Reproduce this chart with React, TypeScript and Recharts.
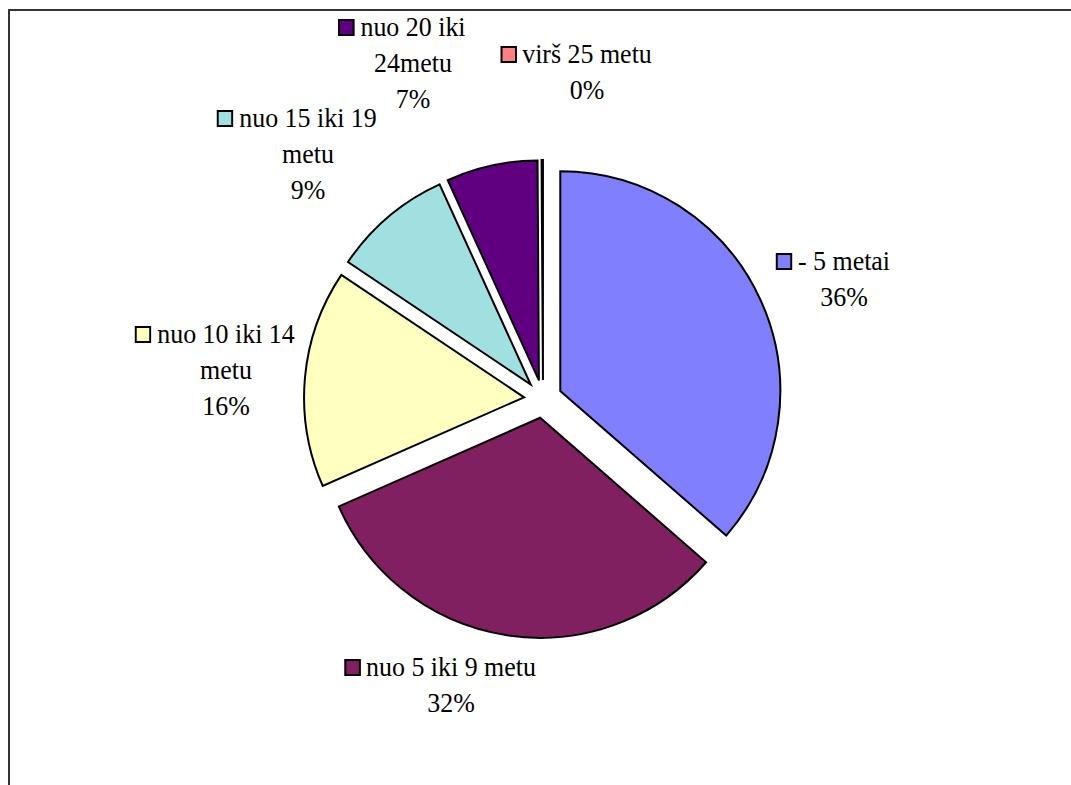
import { PieChart, Pie, Cell } from "recharts"

// slice names, clockwise from 12 o'clock
const CATEGORIES = [
  "- 5 metai",
  "nuo 5 iki 9 metu",
  "nuo 10 iki 14 metu",
  "nuo 15 iki 19 metu",
  "nuo 20 iki 24metu",
  "virš 25 metu",
]
// shares in percent
const SHARES = [36.4, 32, 16, 8.8, 6.7, 0.1]
// how the names wrap in the data labels
const LABEL_LINES = [
  ["- 5 metai"],
  ["nuo 5 iki 9 metu"],
  ["nuo 10 iki 14", "metu"],
  ["nuo 15 iki 19", "metu"],
  ["nuo 20 iki", "24metu"],
  ["virš 25 metu"],
]
const COLORS = ["#8080ff", "#802060", "#ffffc0", "#a0e0e0", "#600080", "#ff8080"]

const WIDTH = 1071
const HEIGHT = 785
const CX = 543
const CY = 399
const RADIUS = 220
const EXPLODE = 19
const FONT = '"Liberation Serif", "Times New Roman", serif'
const FONT_SIZE = 27
const SCALE_X = 0.96
const LINE_H = 36
const RAD = Math.PI / 180
// label nudge from the slice's outer point (first baseline, centre of text)
const LABEL_OFFSETS = [
  [83, -30],
  [-56, 41],
  [-79, -35],
  [-80, -90],
  [-79, -130],
  [45, -97],
]

const data = CATEGORIES.map((name, i) => ({ name, value: SHARES[i] }))
const total = SHARES.reduce((s, v) => s + v, 0)

const midAngles = SHARES.map((v, i) => {
  const before = SHARES.slice(0, i).reduce((s, x) => s + x, 0)
  return 90 - ((before + v / 2) / total) * 360
})

function makeLabel(slice: number) {
  return (props: any) => {
    if (props.index !== slice) return null
    const a = -props.midAngle * RAD
    const x = props.cx + props.outerRadius * Math.cos(a) + LABEL_OFFSETS[slice][0]
    const y = props.cy + props.outerRadius * Math.sin(a) + LABEL_OFFSETS[slice][1]
    const lines = [...LABEL_LINES[slice], `${Math.round(props.percent * 100)}%`]
    return (
      <foreignObject x={x - 200} y={y - 27} width={400} height={lines.length * LINE_H + 10}>
        <div
          style={{
            fontFamily: FONT,
            fontSize: FONT_SIZE,
            lineHeight: `${LINE_H}px`,
            textAlign: "center",
            color: "#000",
            whiteSpace: "nowrap",
            transform: `scaleX(${SCALE_X})`,
            transformOrigin: "center top",
          }}
        >
          {lines.map((t, k) => (
            <div key={k}>
              <span style={{ position: "relative" }}>
                {k === 0 && (
                  <span
                    style={{
                      position: "absolute",
                      right: "100%",
                      marginRight: 6,
                      top: 7,
                      width: 13,
                      height: 13,
                      border: "2px solid #000",
                      background: COLORS[slice],
                    }}
                  />
                )}
                {t}
              </span>
            </div>
          ))}
        </div>
      </foreignObject>
    )
  }
}

export default function App() {
  return (
    <div style={{ position: "fixed", left: 0, top: 0, width: WIDTH, height: HEIGHT, background: "#fff" }}>
      <div
        style={{
          position: "absolute",
          left: 8,
          top: 9,
          width: WIDTH - 8,
          height: HEIGHT - 9,
          boxSizing: "border-box",
          borderTop: "2px solid #333",
          borderLeft: "2px solid #333",
        }}
      />
      <div style={{ position: "absolute", left: 0, top: 0 }}>
        <PieChart width={WIDTH} height={HEIGHT} margin={{ top: 0, right: 0, bottom: 0, left: 0 }}>
          {midAngles.map((m, i) => (
            <Pie
              key={i}
              data={data}
              dataKey="value"
              nameKey="name"
              cx={CX + EXPLODE * Math.cos(m * RAD)}
              cy={CY - EXPLODE * Math.sin(m * RAD)}
              outerRadius={RADIUS}
              startAngle={90}
              endAngle={-270}
              isAnimationActive={false}
              label={makeLabel(i)}
              labelLine={false}
            >
              {data.map((_, j) => (
                <Cell
                  key={j}
                  fill={j === i ? COLORS[j] : "none"}
                  stroke={j === i ? "#000" : "none"}
                  strokeWidth={2}
                />
              ))}
            </Pie>
          ))}
        </PieChart>
      </div>
    </div>
  )
}
